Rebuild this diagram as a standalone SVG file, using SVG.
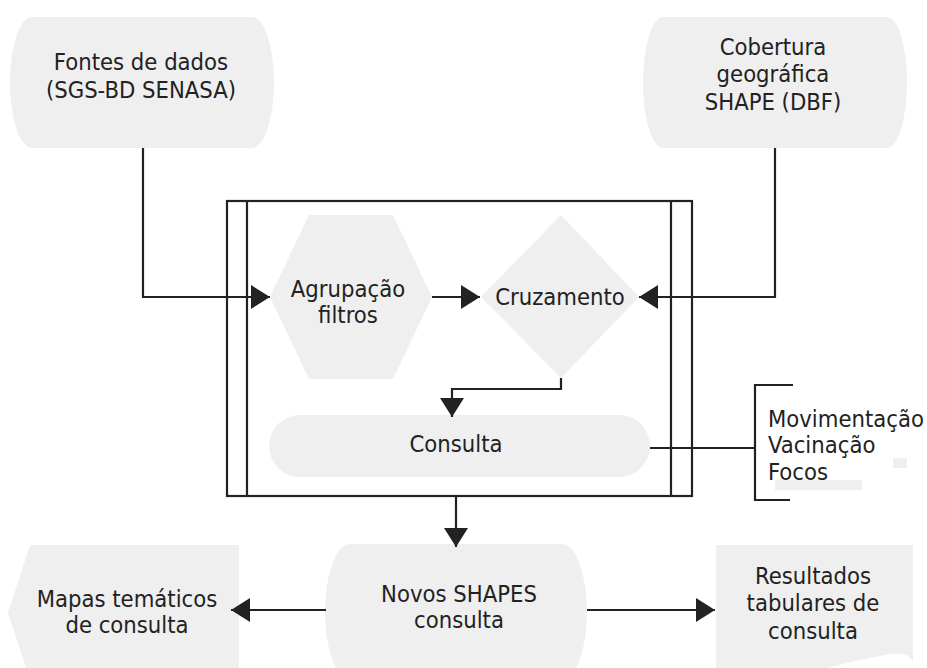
<svg xmlns="http://www.w3.org/2000/svg" width="927" height="668" viewBox="0 0 927 668">
  <style>
    .shape { fill: #efefef; stroke: none; }
    .line { fill: none; stroke: #222; stroke-width: 2.2; }
    .frame { fill: none; stroke: #222; stroke-width: 2.2; }
    text { font-family: "DejaVu Sans Condensed", "DejaVu Sans", Verdana, sans-serif; font-stretch: condensed; font-size: 23.6px; fill: #222; }
    .c { text-anchor: middle; }
  </style>
  <defs>
    <marker id="arrow" markerUnits="userSpaceOnUse" markerWidth="20" markerHeight="24" refX="19" refY="12" orient="auto">
      <path d="M0,0 L19,12 L0,24 Z" fill="#222"/>
    </marker>
  </defs>

  <rect width="927" height="668" fill="#fff"/>

  <!-- process frame -->
  <g id="frame">
    <rect class="frame" x="227" y="201" width="465" height="295"/>
    <line class="frame" x1="247" y1="201" x2="247" y2="496"/>
    <line class="frame" x1="671" y1="201" x2="671" y2="496"/>
  </g>

  <g id="fontes">
    <path class="shape" d="M32,17 H252 A22,65.5 0 0 1 252,148 H32 A22,65.5 0 0 1 32,17 Z"/>
    <text class="c" x="141" y="70">Fontes de dados</text>
    <text class="c" x="141" y="98">(SGS-BD SENASA)</text>
  </g>

  <g id="cobertura">
    <path class="shape" d="M663,17 H887 A20,65.5 0 0 1 887,148 H663 A20,65.5 0 0 1 663,17 Z"/>
    <text class="c" x="773" y="55">Cobertura</text>
    <text class="c" x="773" y="82">geográfica</text>
    <text class="c" x="773" y="110">SHAPE (DBF)</text>
  </g>

  <g id="agrupacao">
    <polygon class="shape" points="309,215 393,215 432,297 393,379 309,379 270,297"/>
    <text class="c" x="348" y="297">Agrupação</text>
    <text class="c" x="348" y="323">filtros</text>
  </g>

  <g id="cruzamento">
    <polygon class="shape" points="561,215 639,297 561,378 481,297"/>
    <text class="c" x="560" y="305">Cruzamento</text>
  </g>

  <g id="consulta">
    <rect class="shape" x="269" y="415" width="381" height="62" rx="31" ry="31"/>
    <text class="c" x="456" y="452">Consulta</text>
  </g>

  <g id="tipos">
    <path class="line" d="M793,385 H755 V500 H790"/>
    <text x="768" y="427">Movimentação</text>
    <text x="768" y="453">Vacinação</text>
    <text x="768" y="480">Focos</text>
    <rect x="893" y="458" width="14" height="10" fill="#efefef"/>
    <rect x="775" y="480" width="87" height="10" fill="#efefef"/>
  </g>

  <g id="novos">
    <path class="shape" d="M350,544 H562 A25,68 0 0 1 562,680 H350 A25,68 0 0 1 350,544 Z"/>
    <text class="c" x="459" y="602">Novos SHAPES</text>
    <text class="c" x="459" y="628">consulta</text>
  </g>

  <g id="mapas">
    <polygon class="shape" points="30,545 239,545 239,680 30,680 8,613"/>
    <text class="c" x="127" y="607">Mapas temáticos</text>
    <text class="c" x="127" y="633">de consulta</text>
  </g>

  <g id="resultados">
    <path class="shape" d="M716,545 H913 V662 Q908,650 885,655 C850,662 800,672 770,690 H716 Z"/>
    <text class="c" x="813" y="584">Resultados</text>
    <text class="c" x="813" y="611">tabulares de</text>
    <text class="c" x="813" y="639">consulta</text>
  </g>

  <!-- connectors -->
  <g id="connectors">
    <path class="line" d="M143,148 V297 H270" marker-end="url(#arrow)"/>
    <path class="line" d="M775,148 V297 H639" marker-end="url(#arrow)"/>
    <path class="line" d="M432,297 H480" marker-end="url(#arrow)"/>
    <path class="line" d="M561,378 V389 H452 V417" marker-end="url(#arrow)"/>
    <path class="line" d="M650,448 H755"/>
    <path class="line" d="M456,496 V547" marker-end="url(#arrow)"/>
    <path class="line" d="M326,610 H231" marker-end="url(#arrow)"/>
    <path class="line" d="M587,610 H715" marker-end="url(#arrow)"/>
  </g>
</svg>
